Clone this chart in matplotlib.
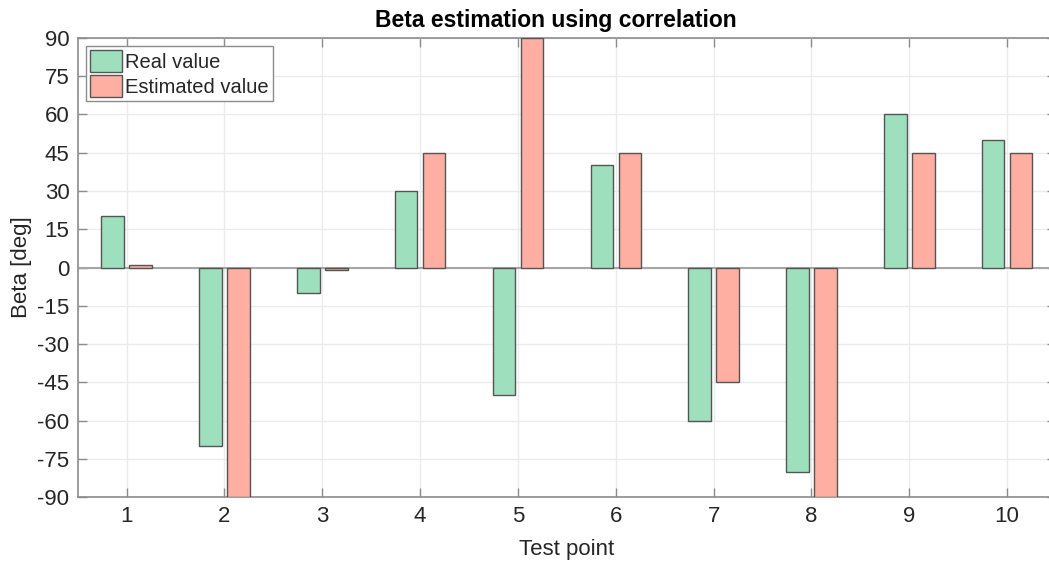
import matplotlib.pyplot as plt
import numpy as np

plt.rcParams['font.family'] = ['Liberation Sans', 'DejaVu Sans']
plt.rcParams['axes.unicode_minus'] = False

test_points = [1, 2, 3, 4, 5, 6, 7, 8, 9, 10]
real_beta = [20, -70, -10, 30, -50, 40, -60, -80, 60, 50]
est_beta = [1, -90, -1, 45, 90, 45, -45, -90, 45, 45]
yticks = list(range(-90, 91, 15))

green = '#9ee0be'
salmon = '#ffaea2'

fig = plt.figure(figsize=(10.49, 5.67), dpi=100)
ax = fig.add_axes([0.0741, 0.1229, 0.9326, 0.8106])

x = np.array(test_points)
w = 0.23
off = 0.143
ax.bar(x - off, real_beta, w, color=green, edgecolor='#555555', linewidth=1.0,
       label='Real value', zorder=3)
ax.bar(x + off, est_beta, w, color=salmon, edgecolor='#555555', linewidth=1.0,
       label='Estimated value', zorder=3)

# baseline at zero
ax.axhline(0, color='#a6a6a6', linewidth=1.5, zorder=2)

ax.set_xlim(0.5, 10.5)
ax.set_ylim(-90, 90)
ax.set_xticks(test_points)
ax.set_yticks(yticks)
ax.grid(True, color='#ebebeb', linewidth=1.0, zorder=0)
ax.set_axisbelow(True)

for s in ax.spines.values():
    s.set_color('#8c8c8c')
    s.set_linewidth(1.2)
ax.tick_params(direction='in', length=6.5, width=1.0, color='#8c8c8c',
               top=True, right=True, labelsize=16, labelcolor='#262626',
               pad=6)

ax.set_xlabel('Test point', fontsize=16, color='#262626', labelpad=9)
ax.set_ylabel('Beta [deg]', fontsize=16, color='#262626', labelpad=4)
ax.text(0.489, 1.012, 'Beta estimation using correlation', transform=ax.transAxes,
        ha='center', va='bottom', fontsize=16.5, fontweight='bold', color='black')

leg = ax.legend(loc='upper left', bbox_to_anchor=(0.0085, 0.981), fontsize=14.5,
                frameon=True, fancybox=False, framealpha=1, edgecolor='#8c8c8c',
                handlelength=1.6, handleheight=1.3, handletextpad=0.15,
                borderpad=0.2, labelspacing=0.12, borderaxespad=0)
leg.get_frame().set_linewidth(1.0)
for t in leg.get_texts():
    t.set_color('#262626')

fig.savefig('out.png', dpi=100)
